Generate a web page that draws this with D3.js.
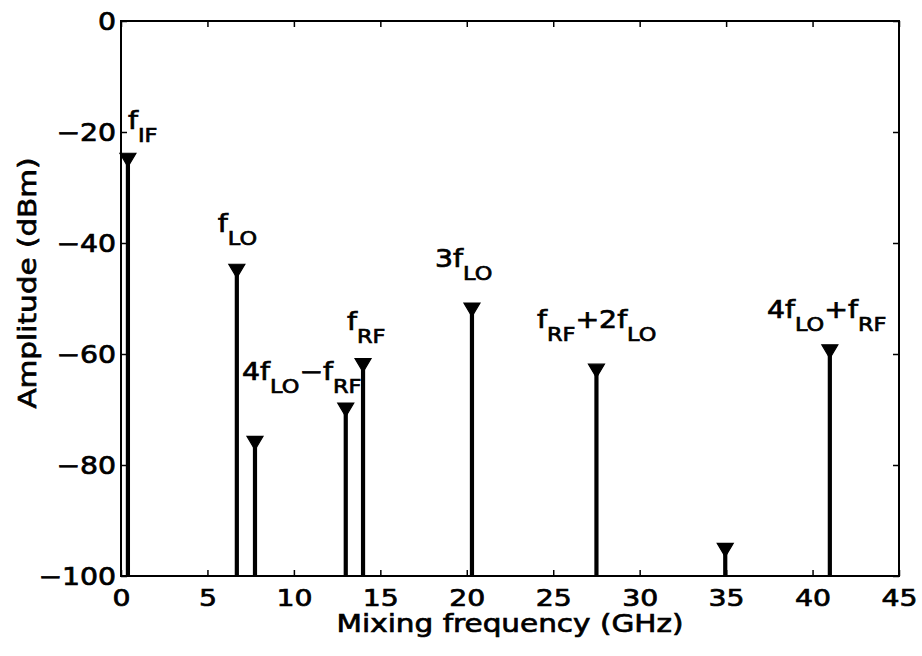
<!DOCTYPE html>
<html><head><meta charset="utf-8">
<script src="https://cdn.jsdelivr.net/npm/d3@7"></script>
<style>
html,body{margin:0;padding:0;background:#fff;}
text{font-family:"DejaVu Sans",sans-serif;fill:#000;stroke:#000;stroke-width:0.7px;}
</style></head><body>
<svg id="c" width="922" height="656"></svg>
<script>
// Data
const freqs = [0.4, 6.7, 7.75, 13.0, 14.0, 20.3, 27.5, 34.95, 41.0];
const amps  = [-25, -45, -76, -70, -62, -52, -63, -95.3, -59.5];
const xTicks = [0, 5, 10, 15, 20, 25, 30, 35, 40, 45];
const yTicks = [0, -20, -40, -60, -80, -100];
// Annotations: [text, kind] segments, anchor in data coords
const labelParts = [
  [["f",""],["IF","sub"]],
  [["f",""],["LO","sub"]],
  [["4f",""],["LO","sub"],["\u2212f",""],["RF","sub"]],
  [["f",""],["RF","sub"]],
  [["3f",""],["LO","sub"]],
  [["f",""],["RF","sub"],["+2f",""],["LO","sub"]],
  [["4f",""],["LO","sub"],["+f",""],["RF","sub"]]
];
const labelX = [0.4, 5.6, 7.0, 13.07, 18.16, 24.06, 37.36];
const labelY = [-19.5, -38.0, -64.7, -55.7, -44.3, -55.3, -53.5];
const xTitle = "Mixing frequency (GHz)";
const yTitle = "Amplitude (dBm)";

const svg = d3.select("#c");
const L = 121, R = 899, T = 21, B = 576;
const SX = 1.18;
const x = d3.scaleLinear().domain([0, 45]).range([L, R]);
const y = d3.scaleLinear().domain([-100, 0]).range([B, T]);

// box
svg.append("rect").attr("x", L).attr("y", T).attr("width", R - L).attr("height", B - T)
  .attr("fill", "none").attr("stroke", "#000").attr("stroke-width", 2);

function styleAxis(g){
  g.select(".domain").remove();
  g.selectAll(".tick line").attr("stroke", "#000").attr("stroke-width", 1.5);
  g.selectAll(".tick text").attr("font-size", 23).attr("fill", "#000");
}
// bottom
const gx = svg.append("g").attr("transform", `translate(0,${B})`)
  .call(d3.axisBottom(x).tickValues(xTicks).tickSize(-6).tickPadding(14).tickFormat(d3.format("d")));
styleAxis(gx);
gx.selectAll(".tick text").attr("dy", null).attr("y", 30).attr("transform", `scale(${SX * 24 / 23},1)`);
// top ticks
svg.append("g").attr("transform", `translate(0,${T})`)
  .call(d3.axisTop(x).tickValues(xTicks).tickSize(-6).tickFormat("")).call(styleAxis);
// left
const gy = svg.append("g").attr("transform", `translate(${L},0)`)
  .call(d3.axisLeft(y).tickValues(yTicks).tickSize(-6).tickPadding(5)
    .tickFormat(d => d < 0 ? "\u2212" + Math.abs(d) : d));
styleAxis(gy);
gy.selectAll(".tick text").attr("font-size", 24).attr("x", -5 / SX).attr("dy", "0.36em").attr("transform", `scale(${SX},1)`);
// right ticks
svg.append("g").attr("transform", `translate(${R},0)`)
  .call(d3.axisRight(y).tickValues(yTicks).tickSize(-6).tickFormat("")).call(styleAxis);

// stems
const stems = svg.append("g");
freqs.forEach((f, i) => {
  stems.append("line").attr("x1", x(f)).attr("x2", x(f)).attr("y1", y(-100)).attr("y2", y(amps[i]))
    .attr("stroke", "#000").attr("stroke-width", 4.2);
  const cx = x(f), cy = y(amps[i]);
  stems.append("path")
    .attr("d", `M${cx - 8},${cy - 6.5}L${cx + 8},${cy - 6.5}L${cx},${cy + 7}Z`)
    .attr("fill", "#000").attr("stroke", "#000").attr("stroke-width", 1.2);
});

// labels
labelParts.forEach((parts, i) => {
  const g = svg.append("g").attr("transform", `translate(${x(labelX[i])},${y(labelY[i])}) scale(${SX},1)`);
  const t = g.append("text").attr("x", 0).attr("y", 0);
  let shifted = false;
  parts.forEach(([s, kind]) => {
    const ts = t.append("tspan").text(s);
    if (kind === "sub") {
      ts.attr("font-size", 19);
      if (!shifted) { ts.attr("dy", 13); shifted = true; }
    } else {
      ts.attr("font-size", 24);
      if (shifted) { ts.attr("dy", -13); shifted = false; }
    }
  });
});

// axis titles
svg.append("g").attr("transform", `translate(${(L + R) / 2},632) scale(${SX},1)`)
  .append("text").attr("text-anchor", "middle").attr("font-size", 25).text(xTitle);
svg.append("g").attr("transform", `translate(36,283) rotate(-90) scale(${SX},1)`)
  .append("text").attr("text-anchor", "middle").attr("font-size", 25).text(yTitle);
</script>
</body></html>
